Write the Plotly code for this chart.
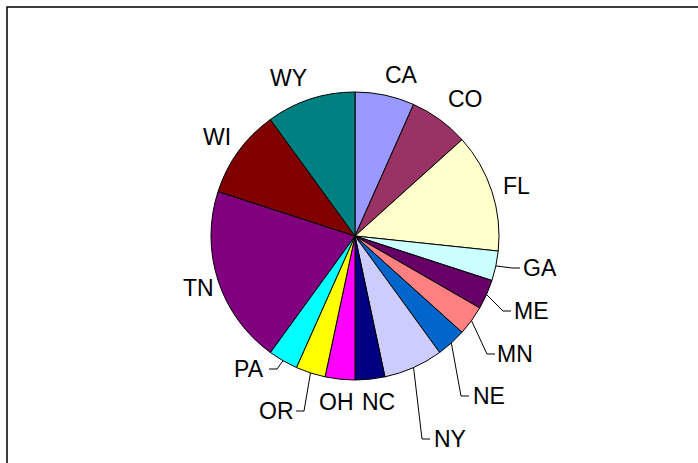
import math
import plotly.graph_objects as go

states = ["CA", "CO", "FL", "GA", "ME", "MN", "NE", "NY", "NC", "OH", "OR", "PA", "TN", "WI", "WY"]
counts = [2, 2, 4, 1, 1, 1, 1, 2, 1, 1, 1, 1, 6, 3, 3]
colors = ["#9999FF", "#993366", "#FFFFCC", "#CCFFFF", "#660066", "#FF8080", "#0066CC",
          "#CCCCFF", "#000080", "#FF00FF", "#FFFF00", "#00FFFF", "#800080", "#800000", "#008080"]

W, H = 698, 463
cx, cy, r = 355, 236, 144

# label layout (pixel centres) and which labels get a leader line
label_pos = {
    "CA": (401, 75), "CO": (465, 99), "FL": (516, 186), "GA": (540, 268),
    "ME": (531, 311), "MN": (515, 354), "NE": (489, 396), "NY": (450, 439),
    "NC": (378, 402), "OH": (336, 402), "OR": (276, 411), "PA": (249, 369),
    "TN": (198, 288), "WI": (217, 137), "WY": (288, 78),
}
leaders = {"GA": "r", "ME": "r", "MN": "r", "NE": "r", "NY": "r", "OR": "l", "PA": "l"}

fig = go.Figure(go.Pie(
    labels=states,
    values=counts,
    sort=False,
    direction="clockwise",
    rotation=0,
    marker=dict(colors=colors, line=dict(color="black", width=1)),
    textinfo="none",
    hoverinfo="label+value",
    showlegend=False,
    domain=dict(x=[(cx - r) / W, (cx + r) / W],
                y=[(H - cy - r) / H, (H - cy + r) / H]),
))

def px(x, y):
    return x / W, 1 - y / H

total = sum(counts)
start = 0.0
for s, c in zip(states, counts):
    mid = (start + c / 2) / total * 2 * math.pi
    start += c
    lx, ly = label_pos[s]
    ax, ay = px(lx, ly)
    fig.add_annotation(x=ax, y=ay, xref="paper", yref="paper", text=s, showarrow=False,
                       xanchor="center", yanchor="middle",
                       font=dict(family="Liberation Sans, Arial", size=23, color="black"))
    if s in leaders:
        ex, ey = cx + r * math.sin(mid), cy - r * math.cos(mid)
        half = 18
        if leaders[s] == "r":
            tip = lx - half - 2
            elbow = tip - 8
        else:
            tip = lx + half + 2
            elbow = tip + 8
        p = [px(ex, ey), px(elbow, ly), px(tip, ly)]
        fig.add_shape(type="path", xref="paper", yref="paper",
                      path="M {} {} L {} {} L {} {}".format(*[v for pt in p for v in pt]),
                      line=dict(color="black", width=1))

# chart frame (only left and top edges visible in the crop)
fig.add_shape(type="rect", xref="paper", yref="paper",
              x0=7 / W, x1=1.05, y0=-0.05, y1=1 - 7 / H,
              line=dict(color="black", width=1.5))

fig.update_layout(
    width=W, height=H,
    margin=dict(l=0, r=0, t=0, b=0),
    paper_bgcolor="white",
    plot_bgcolor="white",
)

fig.write_html("out.html", config={"displayModeBar": False},
               post_script="document.body.style.margin='0';")
